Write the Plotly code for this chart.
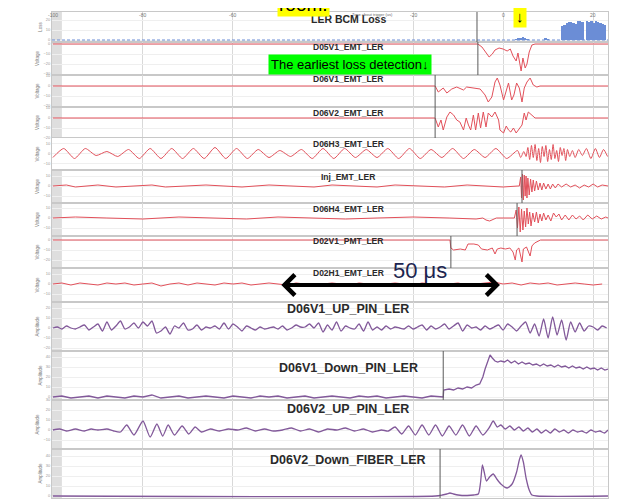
import numpy as np
import plotly.graph_objects as go
from plotly.subplots import make_subplots

# ---------------- data (time in microseconds about trigger) ----------------
x_tick_vals = [-100, -80, -60, -20, 0, 20]
x_tick_text = ["-100", "-80", "-60", "-20", "0", "20"]

panel_names = ["LER BCM Loss", "D05V1_EMT_LER", "D06V1_EMT_LER", "D06V2_EMT_LER",
               "D06H3_EMT_LER", "Inj_EMT_LER", "D06H4_EMT_LER", "D02V1_PMT_LER",
               "D02H1_EMT_LER", "D06V1_UP_PIN_LER", "D06V1_Down_PIN_LER",
               "D06V2_UP_PIN_LER", "D06V2_Down_FIBER_LER"]
y_titles = ["Loss", "Voltage", "Voltage", "Voltage", "Voltage", "Voltage", "Voltage",
            "Voltage", "Voltage", "Amplitude", "Amplitude", "Amplitude", "Amplitude"]

# LER BCM loss histogram
bcm_t = [2.9, 3.4, 3.9, 4.4, 4.9, 5.4, 9.4, 9.9,
         13.15, 13.65, 14.15, 14.65, 15.15, 15.65, 16.15, 16.65, 17.15, 17.65,
         18.15, 18.65, 19.15, 19.65, 20.15, 20.65, 21.15, 21.65, 22.15, 22.65]
bcm_v = [1, 1.5, 2, 3, 2, 1, 1.5, 1,
         14, 15, 17, 18, 18, 17, 16, 19, 19, 18, 0, 19, 18, 19, 17, 19, 18, 17, 16, 15]
bcm_base_t = [-100.2, 23.3]
bcm_base_v = [0, 0]

d05v1_t = [-100, -5.6, -4.7, -3.8, -3.1, -2.4, -1.8, -0.9, 0.0, 0.9, 1.6, 2.2, 2.9, 3.3,
           4.0, 4.4, 4.9, 5.3, 5.8, 6.4, 7.1, 23.3]
d05v1_v = [0, 0, -3, -9, -13, -10, -6, -4, -5, -7, -5, -12, -17, -9,
           -27, -14, -24, -20, -8, -1, 0, 0]

d06v1_t = [-100, -15.1, -14.4, -13.3, -12.5, -11.4, -10.3, -8.8, -8.1, -6.6, -5.1, -4.0,
           -3.3, -2.5, -1.8, -1.3, -0.7, 0.1, 0.7, 1.2, 1.9, 2.4, 3.0, 3.6, 4.2, 4.7, 5.3,
           6.0, 6.7, 7.5, 8.2, 23.3]
d06v1_v = [0, 0, -6, -2, -7, -3, -1, -4, -1, -2, -3, -9,
           -16, -11, 4, 8, 1, -14, -4, 3, -14, -9, 3, -2, -16, -2, 4,
           8, 1, -1, 0, 0]

d06v2_t = [-100, -15.1, -14.4, -13.8, -13.3, -12.5, -11.8, -11.0, -10.3, -9.6, -8.8, -8.2,
           -7.7, -7.2, -6.6, -6.1, -5.5, -5.0, -4.4, -3.8, -3.3, -2.5, -1.8, -1.0, -0.7,
           0.1, 0.7, 1.2, 1.7, 2.3, 2.9, 3.4, 4.2, 4.7, 5.1, 5.6, 6.4, 7.1, 8.2, 23.3]
d06v2_v = [0, 0, -9, -2, -12, 1, 6, 3, -2, -4, -12, 0,
           -7, -12, 3, -12, 5, -10, 6, -9, 5, 1, 6, -2, -12,
           -15, -8, -12, -14, -10, -15, -12, -7, 5, -2, 6, 3, 0, 0, 0]

d06h3_sine_t = [-100.0, -97.6, -95.2, -92.8, -90.4, -88.0, -85.6, -83.2, -80.8, -78.4,
                -76.0, -73.6, -71.2, -68.8, -66.4, -64.0, -61.6, -59.2, -56.8, -54.4,
                -52.0, -49.6, -47.2, -44.8, -42.4, -40.0, -37.6, -35.2, -32.8, -30.4,
                -28.0, -25.6, -23.2, -20.8, -18.4, -16.0, -13.6, -11.2, -8.8, -6.4,
                -4.0, -1.6, 0.8, 3.2]
d06h3_sine_v = [-4, 5, -5, 5, -2, 2, -3, 4, -5, 5,
                -5, 5, -5, 5, -5, 6, -5, 5, -5, 4,
                -4, 3, -3, 4, -5, 5, -5, 5, -4, 4,
                -4, 5, -5, 5, -5, 4, -4, 5, -5, 4,
                -4, 5, -5, 3]
d06h3_burst_t = [3.9, 4.6, 5.1, 5.5, 5.9, 6.3, 6.7, 7.1, 7.5, 7.9, 8.3, 8.7, 9.1, 9.5, 9.9,
                 10.3, 10.7, 11.1, 11.5, 11.9, 12.3, 12.7, 13.1, 13.5, 13.9, 14.3, 14.8,
                 15.4, 16.0, 16.8, 17.6, 18.5, 19.5, 20.5, 21.4, 22.3, 23.2]
d06h3_burst_v = [-4, 2, -3, 6, -6, 8, -4, 9, -7, 5, -9, 7, -3, 8, -8,
                 4, -6, 9, -5, 3, -8, 6, -2, 5, -7, 4, -3,
                 3, -4, 4, -2, 5, -5, 5, -4, 4, -3]

inj_left_t = [-100, -97, -95, -93, -90, -86, -83, -78, -75, -71, -66, -62, -58, -52, -47,
              -42, -38, -33, -28, -24, -18, -13, -8, -4, 0, 3.3]
inj_left_v = [0, 1, -1, 0, 1, -1, 0, 1, -1, 0, 1, 0, -1, 1, 0,
              -1, 1, 0, -1, 1, 0, -1, 1, 0, -1, 0]
inj_burst_t = [3.6, 3.9, 4.1, 4.3, 4.5, 4.7, 4.9, 5.1, 5.3, 5.5, 5.8, 6.1, 6.4, 6.7, 7.0,
               7.4, 7.8, 8.2, 8.6, 9.0, 9.5, 10.0, 10.5, 11.0, 11.6, 12.2, 13.0, 14.0,
               15.0, 16.0, 17.0, 18.0, 19.0, 20.0, 21.0, 22.0, 23.3]
inj_burst_v = [0, 9, -12, 12, -14, 11, -10, 10, -12, 8, -9, 7, -6, 6, -5,
               5, -4, 3, -4, 3, -3, 2, -3, 2, -2, 2, -1, 2,
               -1, 1, -2, 1, -1, 2, -1, 1, 0]

d06h4_left_t = [-100, -95, -88, -80, -72, -65, -57, -50, -43, -35, -28, -20, -12, -6,
                -4.5, -3.8, -3.0, -2.2, -1.5, 2.5]
d06h4_left_v = [0, 1, 0, -1, 1, 0, -1, 1, 0, -1, 0, 1, 0, -1, 0, -2, -3, -1, 0, 0]
d06h4_burst_t = [2.9, 3.2, 3.5, 3.8, 4.1, 4.4, 4.7, 5.0, 5.3, 5.6, 5.9, 6.2, 6.6, 7.0, 7.4,
                 7.8, 8.2, 8.6, 9.0, 9.5, 10.0, 10.6, 11.2, 11.8, 12.4, 13.0, 13.8, 14.6,
                 15.4, 16.2, 17.0, 17.8, 18.8, 19.8, 20.8, 21.8, 22.8, 23.3]
d06h4_burst_v = [8, -10, 11, -14, 9, -12, 7, -9, 10, -6, 6, -8, 5, -4, 6,
                 -5, 4, -3, 5, -2, 3, -3, 5, 1, 4, -2, 3, -2,
                 3, -1, 2, -2, 3, -1, 2, -1, 1, 0]

d02v1_t = [-100, -11.8, -11.6, -11.0, -9.5, -8.4, -7.8, -6.5, -5.5, -4.8, -3.5, -2.4, -1.8,
           -1.3, -0.5, 0.5, 1.5, 2.2, 2.7, 3.0, 3.5, 4.2, 4.5, 5.2, 6.0, 6.4, 7.0, 7.7, 8.3,
           23.3]
d02v1_v = [0, 0, -8, -10, -9, -10, -4, -4, -5, -9, -10, -8, -14,
           -9, -8, -9, -8, -12, -20, -10, -8, -22, -9, -7, -16, -6, -3, -1, 0,
           0]

# D02H1: sampled every 2 us from -100 us
d02h1_v = [0, 1, -1, 1, 0, -1, 1, 0, 1, -1,
           0, 1, -2, 0, 1, -1, 1, 0, -1, 1,
           0, 1, -1, 0, 1, 0, -1, 1, 0, -1,
           0, 1, 0, -1, 1, 0, -1, 0, 1, 0,
           -1, 1, 0, -1, 0, 1, -1, 0, 1, 2,
           0, 1, -1, 1, 0, 1, -1, 0, 1, 0,
           -1, 0]

# D06V1 UP PIN: sampled every 1 us from -100 us
d06v1_up_v = [0, 1, -1, 2, 0, -1, 1, 3, -2, 1, 4, -3,
              6, -2, 2, 7, -1, 1, 5, 0, 6, 2, 7, -5,
              -3, 1, -6, 2, 0, 5, -2, -1, 3, -2, 1, 0,
              2, -1, 5, -1, 4, 1, -3, 2, 0, -2, 1, -1,
              0, 1, -1, 2, -2, 0, 3, 1, 1, 4, 0, 5,
              -4, 3, -2, 6, -3, 2, 0, -1, 4, -3, 6, -2,
              1, -2, 2, -1, 1, 0, -1, 2, -1, 1, 3, -2,
              2, -1, 1, 4, -1, 2, 5, -3, 3, 0, 1, -2,
              2, -1, 1, 3, -2, 4, 1, -3, 2, 6, -5, 4,
              -8, 9, -10, 11, -7, 8, -12, 6, -4, 5, -3, 2,
              1, -2, 2, 0]

# D06V1 Down PIN: baseline sampled every 2 us from -100 us, then the step response
d06v1_down_base_v = [0, 1, -1, 0, 1, -1, 1, 0, -1, 1,
                     0, 2, -1, 0, 1, -1, 0, 1, 0, -1,
                     1, 0, -1, 1, 0, 1, -1, 0, 1, -1,
                     0, 1, 0, -1, 1, 0, 1, -1, 0, 1,
                     0, -1, 1, 0]
d06v1_down_t = [-13.3, -13.2, -12.0, -11.0, -10.0, -9.0, -8.0, -7.0, -6.0, -5.2, -4.5, -4.0,
                -3.4, -2.9, -2.4, -1.8, -1.2, -0.5, 0.3, 1.0, 1.8, 2.6, 3.4, 4.2, 5.0, 5.8,
                6.6, 7.4, 8.2, 9.0, 9.8, 10.6, 11.4, 12.2, 13.0, 13.8, 14.6, 15.4, 16.2,
                17.0, 17.8, 18.6, 19.4, 20.2, 21.0, 21.8, 22.6, 23.3]
d06v1_down_v = [0, 7, 8, 7, 9, 8, 10, 9, 12, 13, 20, 28,
                35, 42, 39, 36, 35, 36, 35, 37, 34, 36, 33, 35, 33, 34,
                32, 33, 31, 33, 31, 32, 30, 32, 30, 31, 29, 31, 29,
                30, 28, 30, 28, 29, 27, 29, 27, 28]

d06v2_up_t = [-100, -98.5, -97, -95, -93, -91.5, -90, -88, -86.5, -85,
              -83.6, -82, -80, -78.4, -76.9, -75.6, -74.4, -73, -71.3, -69.8,
              -68.4, -67, -65, -63, -61, -59, -57, -55, -53, -51,
              -49, -47, -45, -43, -41, -39, -37, -35, -33, -31,
              -29, -27, -25.5, -24, -22.5, -21, -19.5, -18, -16.5, -15,
              -13.5, -12, -10.5, -9, -7.5, -6, -4.5, -3, -2.2, -1.3,
              -0.5, 0.5, 1.5, 2.5, 3.5, 4.5, 5.5, 6.5, 7.5, 8.5,
              9.5, 10.5, 11.5, 12.5, 13.5, 14.5, 15.5, 16.5, 17.5, 18.5,
              19.5, 20.5, 21.5, 22.5, 23.3]
d06v2_up_v = [0, 1, -1, 1, -1, 1, 0, 1, -1, -2,
              5, -5, 9, -7, 6, -6, 5, -5, 4, -4,
              3, -2, 1, -1, 1, 0, 2, -1, 1, -1,
              0, 2, -1, 1, -2, 1, 0, 2, -1, 1,
              -2, 0, -1, 3, -4, 4, -5, 5, -5, 5,
              -6, 4, -5, 5, -6, 4, -5, 3, 9, 3,
              5, 1, 4, 0, 3, -1, 2, -2, 1, -3,
              0, -3, 1, -2, 0, -3, 0, -2, -1, -3,
              0, -2, -1, -3, 0]

fiber_t = [-100, -15, -13.5, -12.5, -11.8, -11, -10, -8, -6.5, -5.5,
           -5.0, -4.6, -4.2, -3.7, -3.0, -2.2, -1.4, -0.5, 0.9, 2.0,
           3.0, 3.6, 4.0, 4.5, 5.1, 5.8, 6.4, 7.5, 23.3]
fiber_v = [0, 0, 1, 2, 3, 2, 1, 0.5, 1, 2,
           14, 31, 24, 15, 19, 22, 17, 12, 8, 12,
           24, 36, 41, 34, 18, 6, 1, 0, 0]

# cursor markers (row, time)
cursor_rows = [1, 2, 3, 4, 6, 7, 8, 11, 13]
cursor_t = [-5.8, -5.6, -15.1, -15.1, 4.2, 3.1, -11.6, -13.3, -14.0]

# ---------------- styling / layout constants ----------------
RED = "#e2505a"
PURPLE = "#82599a"
BLUE = "#6b8dd6"
row_h = [30, 33, 32, 31, 32, 33, 33, 32, 34, 49, 49, 49, 49]
y_ranges = [[-2, 28], [-31, 2], [-21, 11], [-20, 11], [-16.5, 15.5], [-17, 16], [-18, 15],
            [-28, 4], [-18, 16], [-23, 26], [-3, 46], [-19, 30], [-2, 47]]
label_py = [19.5, 47, 79, 113, 144, 177, 209, 241, 273, 309, 368, 409, 460]
label_size = [10.5, 8.5, 8.5, 8.5, 8.5, 8.5, 8.5, 8.5, 8.5, 12.5, 12.5, 12.5, 12.5]
# plot area in screen pixels; the page body adds an 8 px offset to the figure
TOP, BOT, LEFT, RIGHT = 12, 498, 52, 608
OFF = 8


def py(p):
    return (BOT - p) / (BOT - TOP)


def px(p):
    return (p - LEFT) / (RIGHT - LEFT)


fig = make_subplots(rows=13, cols=1, shared_xaxes=True, vertical_spacing=0,
                    row_heights=row_h)


def add_line(t, v, row, color=RED, width=1, shape="linear", dash=None):
    fig.add_trace(go.Scatter(x=t, y=v, mode="lines", hoverinfo="skip", showlegend=False,
                             line=dict(color=color, width=width, shape=shape, dash=dash,
                                       smoothing=0.6 if shape == "spline" else None)),
                  row=row, col=1)


# row 1: BCM loss
add_line(bcm_base_t, bcm_base_v, 1, color=BLUE, width=1, dash="3px,2px")
fig.add_trace(go.Bar(x=bcm_t, y=bcm_v, width=0.5, marker=dict(color=BLUE, line_width=0),
                     hoverinfo="skip", showlegend=False), row=1, col=1)

add_line(d05v1_t, d05v1_v, 2)
add_line(d06v1_t, d06v1_v, 3)
add_line(d06v2_t, d06v2_v, 4)
add_line(d06h3_sine_t + d06h3_burst_t, d06h3_sine_v + d06h3_burst_v, 5, shape="spline")
add_line(inj_left_t + inj_burst_t, inj_left_v + inj_burst_v, 6)
add_line(d06h4_left_t + d06h4_burst_t, d06h4_left_v + d06h4_burst_v, 7)
add_line(d02v1_t, d02v1_v, 8)
d02h1_t = [-100 + 2 * i for i in range(len(d02h1_v))]
add_line(d02h1_t, d02h1_v, 9)
d06v1_up_t = [-100 + 1 * i for i in range(len(d06v1_up_v))]
add_line(d06v1_up_t, d06v1_up_v, 10, color=PURPLE, width=1.3, shape="spline")
d06v1_down_base_t = [-100 + 2 * i for i in range(len(d06v1_down_base_v))]
add_line(d06v1_down_base_t + d06v1_down_t, d06v1_down_base_v + d06v1_down_v, 11,
         color=PURPLE, width=1.3)
add_line(d06v2_up_t, d06v2_up_v, 12, color=PURPLE, width=1.3, shape="spline")
add_line(fiber_t, fiber_v, 13, color=PURPLE, width=1.3, shape="spline")

for r, t in zip(cursor_rows, cursor_t):
    fig.add_vline(x=t, row=r, col=1, line=dict(color="#5a5a5a", width=1))

# axes
fig.update_xaxes(range=[-100.2, 23.3], tickvals=x_tick_vals, ticktext=x_tick_text,
                 showgrid=True, gridcolor="#d9d9d9", gridwidth=1, zeroline=False,
                 showline=True, mirror=True, linecolor="#c8c8c8", linewidth=1,
                 showticklabels=False, ticks="", automargin=False)
for i in range(13):
    fig.update_yaxes(range=y_ranges[i], row=i + 1, col=1,
                     title_text=y_titles[i])
fig.update_yaxes(showgrid=True, gridcolor="#efefef", zeroline=False, showline=True,
                 mirror=True, linecolor="#c8c8c8", linewidth=1, nticks=5, ticks="",
                 tickfont=dict(size=4, color="#999"), automargin=False,
                 title_font=dict(size=4.5, color="#777"), title_standoff=3)

# shaded strip at left of the traces
fig.add_shape(type="rect", xref="x", yref="paper", x0=-100.2, x1=-98, y0=0, y1=1,
              fillcolor="#d6d6d6", opacity=0.8, line_width=0, layer="below")

annotations = []
# top time-axis tick labels
for tv, tt in zip(x_tick_vals, x_tick_text):
    annotations.append(dict(xref="x", yref="paper", x=tv, y=py(10), text=tt,
                            showarrow=False, font=dict(size=5, color="#777")))
for name, lp, ls in zip(panel_names, label_py, label_size):
    annotations.append(dict(xref="paper", yref="paper", x=px(348), y=py(lp),
                            text="<b>" + name + "</b>", showarrow=False,
                            xanchor="center", yanchor="middle",
                            font=dict(family="Liberation Sans", size=ls, color="#2a2a2a")))

annotations += [
    dict(xref="paper", yref="paper", x=px(372), y=py(10), text="Time about trigger (us)",
         showarrow=False, font=dict(size=4, color="#666")),
    dict(xref="paper", yref="paper", x=px(303), y=py(16.5), yanchor="bottom",
         text="room.", showarrow=False, bgcolor="#ffff00", borderpad=1,
         font=dict(family="Liberation Sans", size=19, color="black")),
    dict(xref="paper", yref="paper", x=px(527), y=py(5), text="↓", showarrow=False,
         bgcolor="#ffff00", borderpad=2,
         font=dict(family="Liberation Sans", size=15, color="black")),
    dict(xref="paper", yref="paper", x=px(350), y=py(54),
         text="The earliest loss detection↓", showarrow=False, bgcolor="#00ff00",
         borderpad=2, font=dict(family="Liberation Sans", size=13, color="black")),
    dict(xref="paper", yref="paper", x=px(420), y=py(270), text="50 μs", showarrow=False,
         font=dict(family="Liberation Sans", size=22, color="#1c2550")),
    dict(xref="x9", yref="y9", x=-0.7, y=-1, ax=-49.6, ay=-1, axref="x9", ayref="y9",
         text="", showarrow=True, arrowhead=4, startarrowhead=4, arrowside="end+start",
         arrowsize=1, startarrowsize=1, arrowwidth=4, arrowcolor="black"),
]

fig.update_layout(width=626, height=501,
                  margin=dict(l=LEFT - OFF, r=626 - RIGHT + OFF, t=TOP - OFF,
                              b=501 - BOT + OFF),
                  paper_bgcolor="white", plot_bgcolor="white", bargap=0,
                  font=dict(family="Liberation Sans"), showlegend=False,
                  annotations=annotations)

fig.write_html("out.html")
